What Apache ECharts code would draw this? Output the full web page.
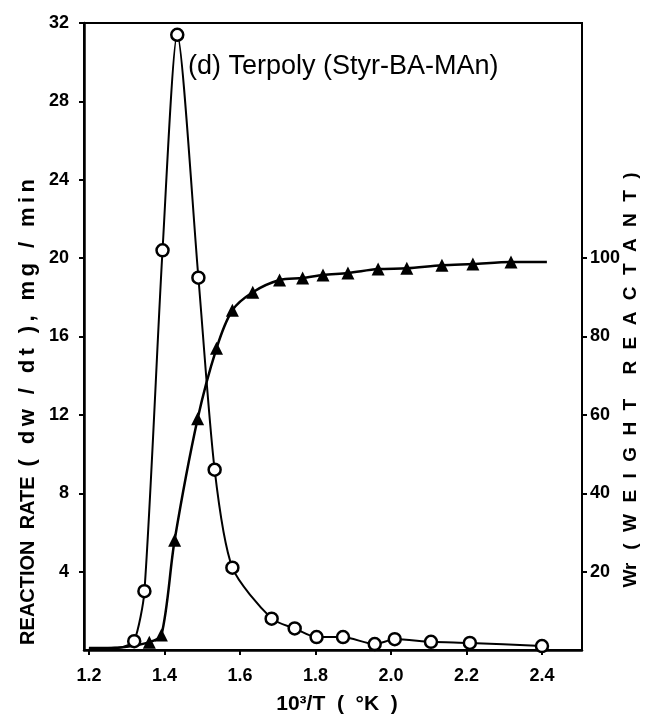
<!DOCTYPE html>
<html>
<head>
<meta charset="utf-8">
<script src="https://cdn.jsdelivr.net/npm/echarts@6/dist/echarts.min.js"></script>
<style>html,body{margin:0;padding:0;background:#fff}#c{width:651px;height:721px}</style>
</head>
<body>
<div id="c"></div>
<script>
// 10^3/T values and reaction rate (circles, left axis)
const rateX = [1.20, 1.23, 1.26, 1.29, 1.32, 1.347, 1.395, 1.434, 1.490, 1.533, 1.580, 1.684, 1.745, 1.803, 1.873, 1.957, 2.010, 2.106, 2.209, 2.400];
const rateY = [0.05, 0.05, 0.10, 0.15, 0.45, 3.0, 20.4, 31.4, 19.0, 9.2, 4.2, 1.6, 1.1, 0.66, 0.66, 0.30, 0.55, 0.42, 0.36, 0.20];
// weight reactant (triangles, right axis)
const wrX = [1.20, 1.25, 1.30, 1.36, 1.392, 1.427, 1.488, 1.538, 1.580, 1.634, 1.705, 1.766, 1.820, 1.886, 1.966, 2.042, 2.135, 2.217, 2.318, 2.413];
const wrY = [0.5, 0.5, 0.8, 2.0, 3.8, 28, 59, 77, 86.7, 91.3, 94.4, 94.9, 95.7, 96.2, 97.2, 97.4, 98.2, 98.5, 99.0, 99.0];
const wrMarker = [false, false, false, true, true, true, true, true, true, true, true, true, true, true, true, true, true, true, true, false];
// tick labels
const xTicks = [1.2, 1.4, 1.6, 1.8, 2.0, 2.2, 2.4];
const leftTicks = [4, 8, 12, 16, 20, 24, 28, 32];
const rightTicks = [20, 40, 60, 80, 100];

const chart = echarts.init(document.getElementById('c'), null, {renderer: 'canvas'});
const FF = '"Liberation Sans", Arial, sans-serif';
const labelStyle = {color: '#000', fontFamily: FF, fontWeight: 'bold', fontSize: 18};
const T = '\u2009';
const spaced = (s, sep) => Array.from(s).join(sep);
const leftName = '{a|REACTION  RATE }{b|' + T + spaced('( dw / dt ), mg / min', T) + '}';
const rightName = 'Wr ' + T + T + '(' + T + T + T + spaced('WEIGHT', T + T + T) + ' ' + T + T + T + T + T +
                  spaced('REACTANT', T + T + T) + T + T + T + ')';

const option = {
  animation: false,
  backgroundColor: '#fff',
  grid: {left: 84, right: 69, top: 23, bottom: 71, show: true, borderColor: '#000', borderWidth: 2},
  xAxis: {
    type: 'value', min: 1.187, max: 2.506,
    axisLine: {show: true, onZero: false, lineStyle: {color: '#000', width: 2.5}},
    axisTick: {show: true, inside: false, length: 5, customValues: xTicks, lineStyle: {color: '#000', width: 2}},
    axisLabel: Object.assign({customValues: xTicks, margin: 17, formatter: v => v.toFixed(1)}, labelStyle),
    splitLine: {show: false}
  },
  yAxis: [{
    type: 'value', min: 0, max: 32, position: 'left',
    axisLine: {show: true, lineStyle: {color: '#000', width: 2.5}},
    axisTick: {show: true, inside: false, length: 5, customValues: leftTicks, lineStyle: {color: '#000', width: 2}},
    axisLabel: Object.assign({customValues: leftTicks, margin: 15}, labelStyle),
    splitLine: {show: false}
  }, {
    type: 'value', min: 0, max: 160, position: 'right',
    axisLine: {show: true, lineStyle: {color: '#000', width: 2}},
    axisTick: {show: true, inside: false, length: 5, customValues: rightTicks, lineStyle: {color: '#000', width: 2}},
    axisLabel: Object.assign({customValues: rightTicks, margin: 8}, labelStyle),
    splitLine: {show: false}
  }],
  series: [{
    type: 'line', yAxisIndex: 1, z: 2,
    data: wrX.map((x, i) => wrMarker[i] ? [x, wrY[i]] : {value: [x, wrY[i]], symbol: 'none'}),
    symbol: 'triangle', symbolSize: 13, smooth: 0.3,
    itemStyle: {color: '#000'},
    lineStyle: {color: '#000', width: 2.5}
  }, {
    type: 'line', yAxisIndex: 0, z: 3,
    data: rateX.map((x, i) => i < 4 ? {value: [x, rateY[i]], symbol: 'none'} : [x, rateY[i]]),
    symbol: 'circle', symbolSize: 12, smooth: 0.25,
    itemStyle: {color: '#fff', borderColor: '#000', borderWidth: 2.5},
    lineStyle: {color: '#000', width: 2}
  }],
  graphic: [{
    type: 'text', x: 188, y: 67,
    style: {text: '(d) Terpoly (Styr-BA-MAn)', fill: '#000', font: '27px ' + FF, textVerticalAlign: 'middle'}
  }, {
    type: 'text', x: 28, y: 412, rotation: Math.PI / 2,
    style: {
      text: leftName, fill: '#000', textAlign: 'center', textVerticalAlign: 'middle',
      rich: {
        a: {fontFamily: FF, fontWeight: 'bold', fontSize: 20, fill: '#000'},
        b: {fontFamily: FF, fontWeight: 'bold', fontSize: 22, fill: '#000'}
      }
    }
  }, {
    type: 'text', x: 631, y: 380, rotation: Math.PI / 2,
    style: {text: rightName, fill: '#000', font: 'bold 19px ' + FF, textAlign: 'center', textVerticalAlign: 'middle'}
  }, {
    type: 'text', x: 337, y: 704,
    style: {text: '10³/T  (  °K  )', fill: '#000', font: 'bold 21px ' + FF, textAlign: 'center', textVerticalAlign: 'middle'}
  }]
};
chart.setOption(option);
</script>
</body>
</html>
